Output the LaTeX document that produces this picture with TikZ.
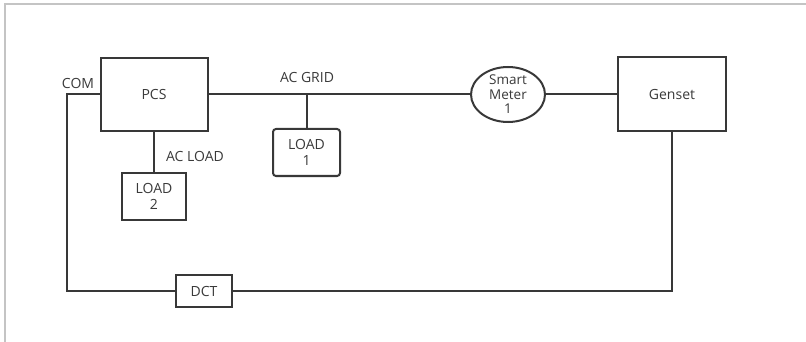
\documentclass[tikz,border=0pt]{standalone}
\usepackage{fontspec}
\setmainfont{Open Sans}
\usetikzlibrary{shapes.geometric}
\definecolor{linec}{HTML}{383838}
\definecolor{textc}{HTML}{3A3A3A}
\definecolor{framec}{HTML}{C4C4C4}
\begin{document}
\begin{tikzpicture}[x=1pt,y=-1pt,
  every node/.style={font=\fontsize{14}{16}\selectfont,text=textc},
  blk/.style={draw=linec,line width=2pt,fill=white,inner sep=0pt,align=center},
  conn/.style={draw=linec,line width=2pt},
  lbl/.style={inner sep=0pt}]
\useasboundingbox (0,0) rectangle (806,342);
\draw[framec,line width=1.8pt] (5,342) -- (5,4) -- (806,4);
\node[blk,minimum width=107pt,minimum height=73pt] (pcs) at (154,94.5) {PCS};
\node[blk,minimum width=108pt,minimum height=74pt] (genset) at (672,94.5) {Genset};
\node[blk,ellipse,minimum width=74pt,minimum height=55pt,font=\fontsize{13.5}{14.5}\selectfont] (meter) at (508,94.5) {Smart\\Meter\\1};
\node[blk,rounded corners=3pt,minimum width=67pt,minimum height=47pt] (load1) at (306.5,152.5) {LOAD\\1};
\node[blk,minimum width=64pt,minimum height=47pt] (load2) at (154,196.5) {LOAD\\2};
\node[blk,minimum width=56pt,minimum height=32pt] (dct) at (204,291) {DCT};
\node[lbl] (com) at (78,83) {COM};
\node[lbl] (acgrid) at (307,78) {AC GRID};
\node[lbl] (acload) at (195,156) {AC LOAD};
\draw[conn] (pcs.east) -- (meter.west);
\draw[conn] (meter.east) -- (genset.west);
\draw[conn] (load1.north) -- (load1.north |- pcs.east);
\draw[conn] (pcs.south) -- (load2.north);
\coordinate (comc) at (67,94.5);
\draw[conn] (pcs.west) -- (comc) |- (dct.west);
\draw[conn] (dct.east) -| (genset.south);
\end{tikzpicture}
\end{document}
